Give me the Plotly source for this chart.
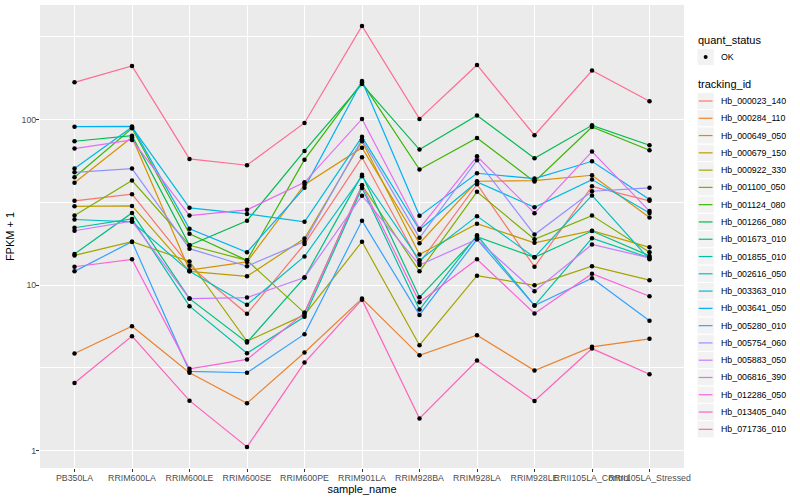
import plotly.graph_objects as go

samples = ["PB350LA", "RRIM600LA", "RRIM600LE", "RRIM600SE", "RRIM600PE", "RRIM901LA",
           "RRIM928BA", "RRIM928LA", "RRIM928LE", "RRII105LA_Control", "RRII105LA_Stressed"]

tracking_ids = ["Hb_000023_140", "Hb_000284_110", "Hb_000649_050", "Hb_000679_150", "Hb_000922_330",
                "Hb_001100_050", "Hb_001124_080", "Hb_001266_080", "Hb_001673_010", "Hb_001855_010",
                "Hb_002616_050", "Hb_003363_010", "Hb_003641_050", "Hb_005280_010", "Hb_005754_060",
                "Hb_005883_050", "Hb_006816_390", "Hb_012286_050", "Hb_013405_040", "Hb_071736_010"]

colors = ["#F8766D", "#EA8331", "#D89000", "#C09B00", "#A3A500", "#7CAE00", "#39B600", "#00BB4E",
          "#00BF7D", "#00C1A3", "#00BFC4", "#00BAE0", "#00B0F6", "#35A2FF", "#9590FF", "#C77CFF",
          "#E76BF3", "#FA62DB", "#FF62BC", "#FF6C91"]

quant_status = ["OK"]

# FPKM + 1 per tracking id, in sample order
Hb_000023_140 = [32.3, 35.4, 13.1, 6.7, 17.7, 59.2, 13.6, 40.7, 12.9, 39.5, 32.3]
Hb_000284_110 = [3.86, 5.64, 2.95, 1.93, 3.91, 8.28, 3.76, 4.98, 3.04, 4.23, 4.73]
Hb_000649_050 = [41.5, 78.2, 12.3, 13.8, 40.4, 67.7, 17.9, 42.4, 42.8, 46.1, 25.6]
Hb_000679_150 = [29.9, 30.1, 12.1, 11.3, 19.1, 74.0, 15.3, 23.5, 18.0, 21.3, 16.9]
Hb_000922_330 = [15.1, 18.3, 13.9, 4.57, 6.6, 18.3, 4.33, 11.4, 9.97, 13.0, 10.7]
Hb_001100_050 = [26.3, 42.8, 17.4, 14.1, 6.79, 40.1, 12.1, 36.6, 18.9, 26.3, 15.8]
Hb_001124_080 = [44.8, 88.6, 20.4, 14.1, 57.3, 168.0, 49.9, 77.5, 42.2, 90.3, 65.3]
Hb_001266_080 = [74.0, 80.0, 17.4, 24.5, 64.7, 164.0, 65.9, 106.0, 58.4, 92.4, 70.0]
Hb_001673_010 = [15.4, 27.3, 8.28, 4.5, 11.1, 46.5, 8.44, 19.6, 14.7, 21.2, 15.0]
Hb_001855_010 = [22.2, 25.1, 7.45, 3.87, 6.43, 38.6, 7.11, 20.0, 7.52, 19.2, 14.6]
Hb_002616_050 = [24.9, 24.1, 12.1, 7.6, 14.9, 45.5, 14.1, 26.1, 14.7, 34.8, 14.3]
Hb_003363_010 = [50.6, 90.0, 29.3, 26.9, 24.1, 78.7, 21.6, 42.0, 29.5, 43.4, 27.3]
Hb_003641_050 = [90.7, 91.0, 21.9, 15.8, 38.7, 171.0, 26.2, 47.4, 44.0, 56.0, 32.9]
Hb_005280_010 = [12.1, 18.3, 3.01, 2.95, 5.05, 24.5, 6.6, 18.9, 7.52, 11.0, 6.08]
Hb_005754_060 = [48.0, 50.6, 16.6, 13.0, 18.3, 76.0, 19.3, 56.9, 20.2, 36.9, 38.7]
Hb_005883_050 = [21.3, 24.3, 8.28, 8.4, 11.1, 34.7, 13.2, 18.9, 9.17, 17.6, 14.6]
Hb_006816_390 = [66.8, 75.4, 26.3, 28.5, 41.8, 101.0, 21.9, 60.0, 27.2, 64.1, 28.0]
Hb_012286_050 = [12.9, 14.3, 3.12, 3.55, 6.79, 40.0, 7.87, 14.3, 6.73, 11.7, 8.55]
Hb_013405_040 = [2.56, 4.91, 2.0, 1.05, 3.4, 8.16, 1.56, 3.5, 1.99, 4.13, 2.89]
Hb_071736_010 = [168.0, 211.0, 57.9, 53.0, 95.5, 368.0, 101.0, 214.0, 80.5, 198.0, 129.0]

series = [Hb_000023_140, Hb_000284_110, Hb_000649_050, Hb_000679_150, Hb_000922_330,
          Hb_001100_050, Hb_001124_080, Hb_001266_080, Hb_001673_010, Hb_001855_010,
          Hb_002616_050, Hb_003363_010, Hb_003641_050, Hb_005280_010, Hb_005754_060,
          Hb_005883_050, Hb_006816_390, Hb_012286_050, Hb_013405_040, Hb_071736_010]

y_ticks = [1, 10, 100]
y_minor = [10 ** -0.5, 10 ** 0.5, 10 ** 1.5, 10 ** 2.5]

FONT = "Liberation Sans, Arial, sans-serif"
W, H = 800, 500
ML, MR, MT, MB = 40, 116, 5, 32
PW, PH = W - ML - MR, H - MT - MB


def px_x(px):
    return (px - ML) / PW


def px_y(py):
    return (H - MB - py) / PH


fig = go.Figure()
for tid, vals, col in zip(tracking_ids, series, colors):
    fig.add_trace(go.Scatter(
        x=samples, y=vals, mode="lines", name=tid,
        line=dict(color=col, width=1.2), showlegend=False,
    ))

all_x, all_y = [], []
for vals in series:
    all_x += samples
    all_y += vals
fig.add_trace(go.Scatter(
    x=all_x, y=all_y, mode="markers", name=quant_status[0],
    marker=dict(color="black", size=4.5), showlegend=False,
))

# ---- manual ggplot-style legend ----
shapes, annots = [], []
KEY = 17.28
kx0 = 697.0
tx = 719.0


def key_box(cy):
    shapes.append(dict(type="rect", xref="paper", yref="paper",
                       x0=px_x(kx0), x1=px_x(kx0 + KEY), y0=px_y(cy + KEY / 2), y1=px_y(cy - KEY / 2),
                       fillcolor="#F2F2F2", line=dict(color="white", width=1), layer="above"))


def label(text, px, py, size, color="black"):
    annots.append(dict(text=text, xref="paper", yref="paper", x=px_x(px), y=px_y(py),
                       xanchor="left", yanchor="middle", showarrow=False,
                       font=dict(family=FONT, size=size, color=color)))


label("quant_status", 695.5, 40.5, 11)
ok_y = 57.0
key_box(ok_y)
shapes.append(dict(type="circle", xref="paper", yref="paper",
                   x0=px_x(kx0 + KEY / 2 - 2), x1=px_x(kx0 + KEY / 2 + 2),
                   y0=px_y(ok_y + 2), y1=px_y(ok_y - 2),
                   fillcolor="black", line=dict(color="black", width=0), layer="above"))
label(quant_status[0], tx, ok_y, 8.8)

label("tracking_id", 695.5, 84.0, 11)
first_y = 101.0
for i, (tid, col) in enumerate(zip(tracking_ids, colors)):
    cy = first_y + i * KEY
    key_box(cy)
    shapes.append(dict(type="line", xref="paper", yref="paper",
                       x0=px_x(kx0 + 0.1 * KEY), x1=px_x(kx0 + 0.9 * KEY), y0=px_y(cy), y1=px_y(cy),
                       line=dict(color=col, width=1.2), layer="above"))
    label(tid, tx, cy, 8.8)

fig.update_layout(
    width=W, height=H,
    margin=dict(l=ML, r=MR, t=MT, b=MB),
    paper_bgcolor="white", plot_bgcolor="#EBEBEB",
    font=dict(family=FONT, size=9, color="#4D4D4D"),
    showlegend=False,
    shapes=shapes, annotations=annots,
)
fig.update_xaxes(
    type="category", range=[-0.6, 10.6],
    showgrid=True, gridcolor="white", gridwidth=1.1,
    ticks="outside", ticklen=3, tickcolor="#333333", tickangle=0,
    tickfont=dict(size=8.8, color="#4D4D4D"), ticklabelstandoff=-2,
    title=dict(text="sample_name", font=dict(size=11, color="black"), standoff=3),
    zeroline=False, showline=False, automargin=False,
)
fig.update_yaxes(
    type="log", range=[-0.106, 2.693],
    tickmode="array", tickvals=y_ticks, ticktext=[str(v) for v in y_ticks],
    showgrid=True, gridcolor="white", gridwidth=1.1,
    minor=dict(tickmode="array", tickvals=y_minor, showgrid=True, gridcolor="white", gridwidth=0.5, ticks=""),
    ticks="outside", ticklen=3, tickcolor="#333333",
    tickfont=dict(size=8.8, color="#4D4D4D"), ticklabelstandoff=-2,
    title=dict(text="FPKM + 1", font=dict(size=11, color="black"), standoff=4),
    zeroline=False, showline=False, automargin=False,
)

fig.write_html("out.html", config={"displayModeBar": False},
               post_script="document.body.style.margin='0px';document.body.style.padding='0px';")
